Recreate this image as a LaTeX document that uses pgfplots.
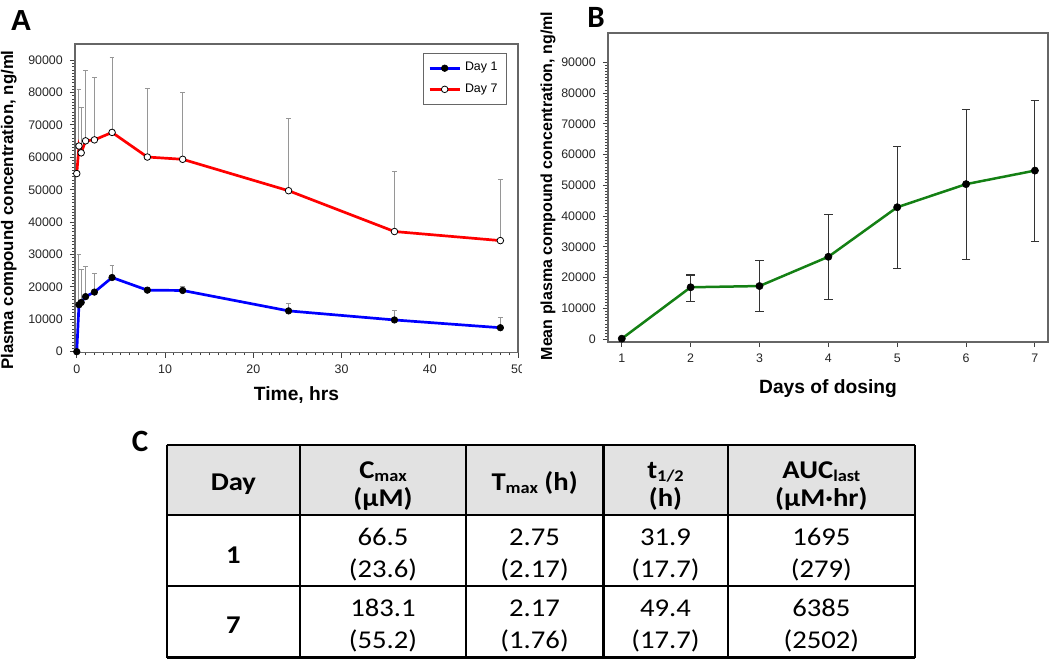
\documentclass[border=0pt]{standalone}
\usepackage{pgfplots}
\pgfplotsset{compat=1.18}
\usepackage{fontspec}
\setmainfont{Liberation Sans}
\newfontfamily\calib{Carlito}
\definecolor{pblue}{RGB}{0,0,255}
\definecolor{pred}{RGB}{255,0,0}
\definecolor{pgreen}{RGB}{20,128,20}
\definecolor{errgray}{RGB}{150,150,150}
\definecolor{hdrgray}{RGB}{226,226,226}
\newcommand{\tabfont}{\calib\fontsize{12.8pt}{15pt}\selectfont}
\newcommand{\sub}[1]{\raisebox{-0.3ex}{\fontsize{8.2pt}{9pt}\selectfont #1}}
\newcommand{\tx}[1]{\scalebox{1.12}[1]{#1}}
\pgfplotsset{
  common/.style={
    scale only axis,
    tick pos=left,
    tick align=outside,
    major tick length=2.6pt,
    minor tick length=1.3pt,
    axis line style={draw=black!60, line width=0.6pt},
    every tick/.style={draw=black!75, line width=0.5pt},
    every minor tick/.style={draw=black!75, line width=0.4pt},
    tick label style={font=\fontsize{6.2pt}{7pt}\selectfont, text=black!85},
    /pgf/number format/assume math mode=true,
    /pgf/number format/set thousands separator={},
    scaled y ticks=false,
    clip=false,
  }
}
\begin{document}
\begin{tikzpicture}
\useasboundingbox (0,0) rectangle (525pt,330pt);

% ---------------- Panel A ----------------
\begin{axis}[common,
  at={(37.5pt,153.75pt)}, anchor=south west,
  width=221.5pt, height=154.25pt,
  xmin=-0.2, xmax=50, ymin=-250, ymax=95000,
  xtick={0,10,20,30,40,50},
  ytick={0,10000,20000,30000,40000,50000,60000,70000,80000,90000},
  minor x tick num=9, minor y tick num=9,
  legend style={at={(0.975,0.971)}, anchor=north east, draw=black!60,
    line width=0.5pt, font=\fontsize{6.2pt}{7pt}\selectfont,
    inner xsep=2.5pt, inner ysep=2.5pt, row sep=0.8pt, cells={anchor=west}},
  legend image code/.code={\draw[mark repeat=2,mark phase=2,#1] plot coordinates {(0pt,0pt)(7.5pt,0pt)(15pt,0pt)};},
]
% error bars (upper only), drawn first
\addplot[draw=none, forget plot,
  error bars/.cd, y dir=plus, y explicit,
  error bar style={draw=errgray, line width=0.5pt},
  error mark options={draw=errgray, rotate=90, mark size=1.2pt, line width=0.5pt}]
coordinates {
 (0.25,14500) +- (0,15600)
 (0.5,15200) +- (0,10200)
 (1,17000) +- (0,9200)
 (2,18400) +- (0,5600)
 (4,22900) +- (0,3800)
 (8,19000) +- (0,700)
 (12,18900) +- (0,1300)
 (24,12600) +- (0,2400)
 (36,9800) +- (0,2900)
 (48,7400) +- (0,3100)
};
\addplot[draw=none, forget plot,
  error bars/.cd, y dir=plus, y explicit,
  error bar style={draw=errgray, line width=0.5pt},
  error mark options={draw=errgray, rotate=90, mark size=1.2pt, line width=0.5pt}]
coordinates {
 (0.25,63500) +- (0,17300)
 (0.5,61400) +- (0,14100)
 (1,65100) +- (0,21700)
 (2,65400) +- (0,19300)
 (4,67700) +- (0,23000)
 (8,60100) +- (0,21200)
 (12,59400) +- (0,20600)
 (24,49700) +- (0,22300)
 (36,37100) +- (0,18500)
 (48,34300) +- (0,18800)
};
\addplot[pblue, line width=1.35pt, mark=*, mark size=1.65pt,
  mark options={fill=black, draw=black, line width=0.3pt}]
coordinates {
 (0,0) (0.25,14500) (0.5,15200) (1,17000) (2,18400) (4,22900)
 (8,19000) (12,18900) (24,12600) (36,9800) (48,7400)
};
\addlegendentry{Day 1}
\addplot[pred, line width=1.35pt, mark=*, mark size=1.65pt,
  mark options={fill=white, draw=black, line width=0.4pt}]
coordinates {
 (0,55000) (0.25,63500) (0.5,61400) (1,65100) (2,65400) (4,67700)
 (8,60100) (12,59400) (24,49700) (36,37100) (48,34300)
};
\addlegendentry{Day 7}
\end{axis}

% hide part of the "50" label as in the reference
\fill[white] (261pt,136pt) rectangle (272pt,150pt);

% ---------------- Panel B ----------------
\begin{axis}[common,
  at={(304pt,159pt)}, anchor=south west,
  width=220pt, height=154.5pt,
  xmin=0.8, xmax=7.19, ymin=-880, ymax=99500,
  xtick={1,2,3,4,5,6,7},
  ytick={0,10000,20000,30000,40000,50000,60000,70000,80000,90000},
  minor y tick num=9,
  major tick length=2.6pt,
]
\addplot[draw=none, forget plot,
  error bars/.cd, y dir=both, y explicit,
  error bar style={draw=black!80, line width=0.55pt},
  error mark options={draw=black!80, rotate=90, mark size=2.1pt, line width=0.55pt}]
coordinates {
 (2,16900) += (0,4000) -= (0,4700)
 (3,17300) += (0,8200) -= (0,8400)
 (4,26800) += (0,13700) -= (0,13800)
 (5,42900) += (0,19700) -= (0,19900)
 (6,50400) += (0,24300) -= (0,24600)
 (7,54800) += (0,22700) -= (0,22900)
};
\addplot[pgreen, line width=1.25pt, mark=*, mark size=1.8pt,
  mark options={fill=black, draw=black, line width=0.3pt}]
coordinates {
 (1,200) (2,16900) (3,17300) (4,26800) (5,42900) (6,50400) (7,54800)
};
\end{axis}

% ---------------- axis titles ----------------
\node[rotate=90, font=\bfseries\fontsize{8.4pt}{10pt}\selectfont] at (4.4pt,225pt)
  {Plasma compound concentration, ng/ml};
\node[font=\bfseries\fontsize{9.6pt}{11pt}\selectfont] at (148.25pt,132.5pt) {Time, hrs};
\node[rotate=90, font=\bfseries\fontsize{8.0pt}{10pt}\selectfont] at (274pt,237pt)
  {Mean plasma compound concentration, ng/ml};
\node[font=\bfseries\fontsize{9.6pt}{11pt}\selectfont] at (414pt,135.5pt) {Days of dosing};

% ---------------- panel letters ----------------
\node[font=\bfseries\fontsize{14.5pt}{16pt}\selectfont] at (10.5pt,319.75pt) {A};
\node[font=\calib\bfseries\fontsize{15.5pt}{17pt}\selectfont] at (298pt,321.5pt) {B};
\node[font=\calib\bfseries\fontsize{15.5pt}{17pt}\selectfont] at (70pt,109.5pt) {C};

% ---------------- Table C ----------------
\fill[hdrgray] (83.35pt,72.5pt) rectangle (457.5pt,107.5pt);
\begin{scope}[line width=1.2pt, black]
\draw (83.35pt,107.5pt) -- (457.5pt,107.5pt);
\draw (83.35pt,72.5pt) -- (457.5pt,72.5pt);
\draw (83.35pt,37pt) -- (457.5pt,37pt);
\draw (83.35pt,1.2pt) -- (457.5pt,1.2pt);
\foreach \xx in {83.35,150,233,301.65,363.85,457.5}
  \draw (\xx pt,107.5pt) -- (\xx pt,1.2pt);
\end{scope}
\begin{scope}[every node/.style={anchor=base, inner sep=0pt, font=\tabfont}]
% header
\node at (116.7pt,85pt) {\tx{\bfseries Day}};
\node at (191.5pt,91pt) {\tx{\bfseries C\sub{max}}};
\node at (191.5pt,77pt) {\tx{\bfseries (µM)}};
\node at (267.3pt,85pt) {\tx{\bfseries T\sub{max} (h)}};
\node at (332.75pt,91pt) {\tx{\bfseries t\sub{1/2}}};
\node at (332.75pt,77pt) {\tx{\bfseries (h)}};
\node at (410.7pt,91pt) {\tx{\bfseries AUC\sub{last}}};
\node at (410.7pt,77pt) {\tx{\bfseries (µM·hr)}};
% row 1
\node at (116.7pt,48.5pt) {\tx{\bfseries 1}};
\node at (191.5pt,57.5pt) {\tx{66.5}};
\node at (191.5pt,41.5pt) {\tx{(23.6)}};
\node at (267.3pt,57.5pt) {\tx{2.75}};
\node at (267.3pt,41.5pt) {\tx{(2.17)}};
\node at (332.75pt,57.5pt) {\tx{31.9}};
\node at (332.75pt,41.5pt) {\tx{(17.7)}};
\node at (410.7pt,57.5pt) {\tx{1695}};
\node at (410.7pt,41.5pt) {\tx{(279)}};
% row 2
\node at (116.7pt,13.5pt) {\tx{\bfseries 7}};
\node at (191.5pt,21.65pt) {\tx{183.1}};
\node at (191.5pt,6pt) {\tx{(55.2)}};
\node at (267.3pt,21.65pt) {\tx{2.17}};
\node at (267.3pt,6pt) {\tx{(1.76)}};
\node at (332.75pt,21.65pt) {\tx{49.4}};
\node at (332.75pt,6pt) {\tx{(17.7)}};
\node at (410.7pt,21.65pt) {\tx{6385}};
\node at (410.7pt,6pt) {\tx{(2502)}};
\end{scope}
\end{tikzpicture}
\end{document}
